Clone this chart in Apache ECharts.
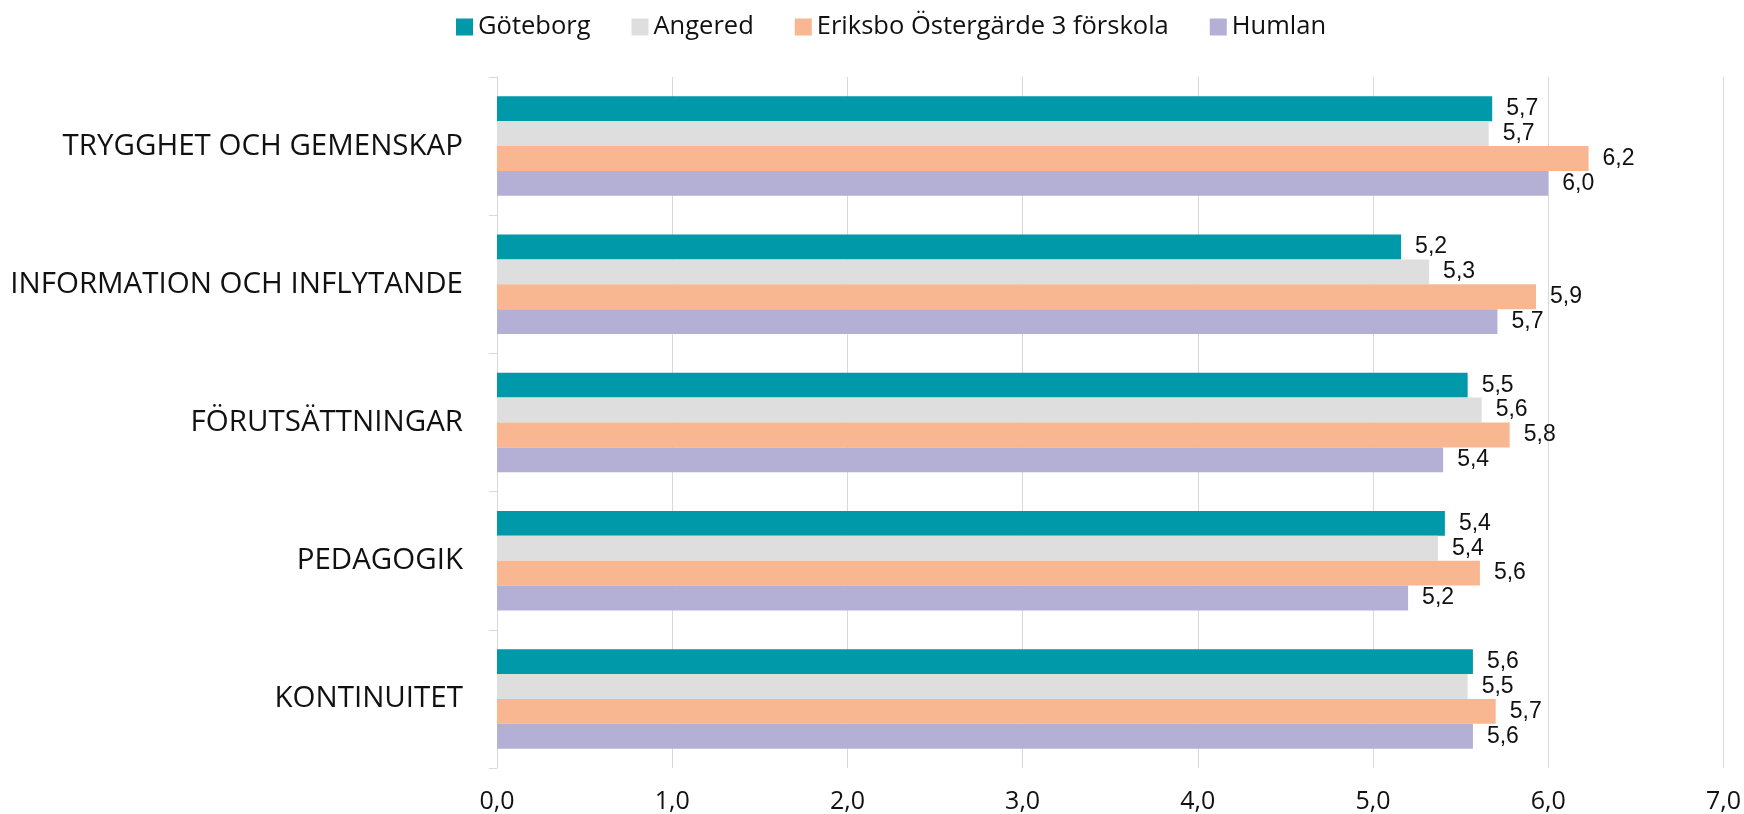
<!DOCTYPE html>
<html>
<head>
<meta charset="utf-8">
<title>Resultat per område</title>
<script src="https://cdn.jsdelivr.net/npm/echarts@6/dist/echarts.min.js"></script>
<style>
  html, body { margin: 0; padding: 0; background: #fff; }
  #chart { width: 1744px; height: 814px; }
</style>
</head>
<body>
<div id="chart"></div>
<script>
// kategorier (uppifrån och ned)
const categories = [
  'TRYGGHET OCH GEMENSKAP',
  'INFORMATION OCH INFLYTANDE',
  'FÖRUTSÄTTNINGAR',
  'PEDAGOGIK',
  'KONTINUITET'
];

const seriesNames = ['Göteborg', 'Angered', 'Eriksbo Östergärde 3 förskola', 'Humlan'];

// värden per serie, i samma ordning som categories
const goteborg = [5.68, 5.16, 5.54, 5.41, 5.57];
const angered = [5.66, 5.32, 5.62, 5.37, 5.54];
const eriksbo = [6.23, 5.93, 5.78, 5.61, 5.70];
const humlan = [6.00, 5.71, 5.40, 5.20, 5.57];

const colors = ['#0099aa', '#dedede', '#f8b791', '#b4afd4'];

const axisMin = 0;
const axisMax = 7;
const axisStep = 1;

// decimalkomma
const fmt = v => Number(v).toFixed(1).replace('.', ',');

const seriesData = [goteborg, angered, eriksbo, humlan];

const chart = echarts.init(document.getElementById('chart'));

chart.setOption({
  animation: false,
  color: colors,
  legend: {
    left: 451,
    top: 9,
    itemWidth: 17,
    itemHeight: 17,
    itemGap: 41,
    icon: 'rect',
    textStyle: { fontFamily: 'Open Sans', fontSize: 25.5, color: '#111' },
    data: seriesNames
  },
  grid: { left: 497, right: 19, top: 77, bottom: 46, containLabel: false },
  xAxis: {
    type: 'value',
    min: axisMin,
    max: axisMax,
    interval: axisStep,
    axisLine: { show: false },
    axisTick: { show: false },
    splitLine: { show: true, lineStyle: { color: '#d9d9d9', width: 1 } },
    axisLabel: {
      formatter: fmt,
      margin: 21,
      fontFamily: 'Open Sans',
      fontSize: 25,
      color: '#111'
    }
  },
  yAxis: {
    type: 'category',
    inverse: true,
    data: categories,
    axisLine: { show: true, lineStyle: { color: '#d9d9d9', width: 1 } },
    axisTick: { show: true, length: 8, lineStyle: { color: '#d9d9d9' } },
    splitLine: { show: false },
    axisLabel: {
      margin: 34,
      fontFamily: 'Open Sans',
      fontSize: 29.5,
      color: '#111'
    }
  },
  series: seriesNames.map((name, i) => ({
    name,
    type: 'bar',
    data: seriesData[i],
    barGap: '0%',
    barCategoryGap: '28%',
    label: {
      show: true,
      position: 'right',
      distance: 14,
      formatter: p => fmt(p.value),
      fontFamily: 'Liberation Sans',
      fontSize: 23,
      color: '#111'
    }
  }))
});
</script>
</body>
</html>
